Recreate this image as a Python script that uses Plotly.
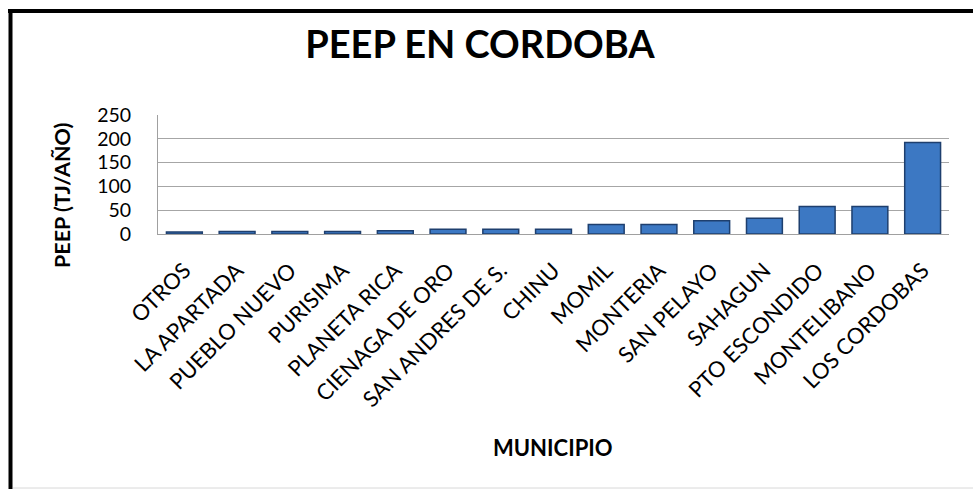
import plotly.graph_objects as go

municipios = ["OTROS", "LA APARTADA", "PUEBLO NUEVO", "PURISIMA", "PLANETA RICA",
              "CIENAGA DE ORO", "SAN ANDRES DE S.", "CHINU", "MOMIL", "MONTERIA",
              "SAN PELAYO", "SAHAGUN", "PTO ESCONDIDO", "MONTELIBANO", "LOS CORDOBAS"]
peep = [4, 5, 5, 5, 7, 10, 10, 10, 20, 20, 28, 33, 58, 58, 192]
y_ticks = [0, 50, 100, 150, 200, 250]

W, H = 973, 489
PL, PR, PT, PB = 158, 949, 115, 234          # plot area in page pixels
ML, MT, MR, MB = PL, PT, W - PR, H - PB
PW, PH = PR - PL, PB - PT

def px_x(p):
    return (p - PL) / PW

def px_y(p):
    return (PB - p) / PH

fig = go.Figure(go.Bar(
    x=municipios, y=peep,
    marker=dict(color="#3C78C3", line=dict(color="#1E3F6E", width=1.5)),
))

font = "Lato, Calibri, Carlito, sans-serif"
fig.update_layout(
    width=W, height=H,
    margin=dict(l=ML, r=MR, t=MT, b=MB, autoexpand=False),
    paper_bgcolor="white", plot_bgcolor="white",
    bargap=0.32,
    showlegend=False,
    title=dict(text="<b>PEEP EN CORDOBA</b>", x=px_x(480), xref="paper", xanchor="center",
               y=1 - 45 / H, yanchor="middle",
               font=dict(family=font, size=38, color="black")),
    xaxis=dict(
        tickangle=-45, tickfont=dict(family=font, size=22, color="black"),
        ticklabelstandoff=14,
        showline=True, linecolor="#A0A0A0", linewidth=1,
        showgrid=False, ticks="",
    ),
    yaxis=dict(
        range=[0, 250], tickvals=y_ticks, ticktext=[str(v) for v in y_ticks],
        tickfont=dict(family=font, size=19.5, color="black"),
        ticklabelstandoff=22,
        showline=True, linecolor="#A0A0A0", linewidth=1,
        showgrid=True, gridcolor="#A6A6A6", gridwidth=1,
        zeroline=False, ticks="",
    ),
    annotations=[
        dict(text="<b>PEEP (TJ/AÑO)</b>", textangle=-90, showarrow=False,
             xref="paper", yref="paper", x=px_x(62), y=px_y(195),
             xanchor="center", yanchor="middle",
             font=dict(family=font, size=21.5, color="black")),
        dict(text="<b>MUNICIPIO</b>", showarrow=False,
             xref="paper", yref="paper", x=px_x(553), y=px_y(447),
             xanchor="center", yanchor="middle",
             font=dict(family=font, size=22, color="black")),
    ],
)

# outer frame of the pasted chart
fig.add_shape(type="line", xref="paper", yref="paper",
              x0=px_x(8), x1=px_x(980), y0=px_y(11), y1=px_y(11),
              line=dict(color="black", width=4))
fig.add_shape(type="line", xref="paper", yref="paper",
              x0=px_x(10.5), x1=px_x(10.5), y0=px_y(9), y1=px_y(495),
              line=dict(color="black", width=4))
fig.add_shape(type="line", xref="paper", yref="paper",
              x0=px_x(13), x1=px_x(980), y0=px_y(488), y1=px_y(488),
              line=dict(color="#D8D8D8", width=1))

fig.write_html(
    "out.html",
    config={"displayModeBar": False},
    post_script="document.body.style.margin='0';document.body.style.overflow='hidden';",
)
